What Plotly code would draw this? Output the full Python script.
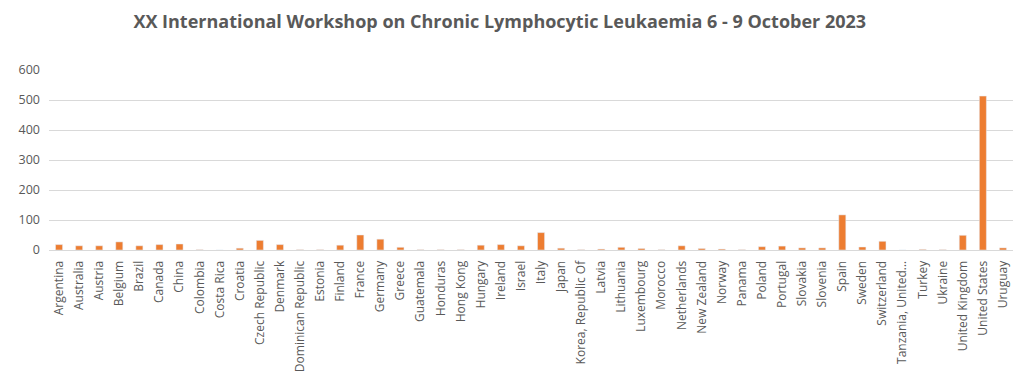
import plotly.graph_objects as go

countries = ["Argentina", "Australia", "Austria", "Belgium", "Brazil", "Canada", "China",
             "Colombia", "Costa Rica", "Croatia", "Czech Republic", "Denmark",
             "Dominican Republic", "Estonia", "Finland", "France", "Germany", "Greece",
             "Guatemala", "Honduras", "Hong Kong", "Hungary", "Ireland", "Israel", "Italy",
             "Japan", "Korea, Republic Of", "Latvia", "Lithuania", "Luxembourg", "Morocco",
             "Netherlands", "New Zealand", "Norway", "Panama", "Poland", "Portugal",
             "Slovakia", "Slovenia", "Spain", "Sweden", "Switzerland", "Tanzania, United...",
             "Turkey", "Ukraine", "United Kingdom", "United States", "Uruguay"]
participants = [18, 14, 14, 27, 14, 18, 20,
                1, 0, 6, 32, 18,
                1, 1, 16, 50, 36, 9,
                1, 1, 1, 16, 18, 14, 58,
                6, 1, 3, 9, 5, 1,
                14, 5, 3, 1, 11, 13,
                7, 7, 117, 10, 29, 0,
                2, 1, 49, 513, 7]
y_ticks = [0, 100, 200, 300, 400, 500, 600]

fig = go.Figure(go.Bar(x=countries, y=participants, marker_color="#ED7D31",
                       width=0.35))
fig.update_layout(
    width=1016, height=378,
    margin=dict(l=41, r=11, t=62, b=136, autoexpand=False),
    paper_bgcolor="white", plot_bgcolor="white",
    title=dict(text="<b>XX International Workshop on Chronic Lymphocytic Leukaemia 6 - 9 October 2023</b>",
               x=0.484, xanchor="center", y=0.963, yanchor="middle",
               font=dict(family="Open Sans", size=18, color="#595959")),
    font=dict(family="Open Sans", color="#595959"),
    showlegend=False,
    bargap=0.65,
)
fig.update_yaxes(range=[0, 600], tickvals=y_ticks, gridcolor="#d9d9d9", gridwidth=1,
                 tickfont=dict(size=12.5, color="#595959"), zeroline=False,
                 ticks="", showline=False, automargin=False, ticklabelstandoff=8)
fig.update_xaxes(tickangle=-90, tickfont=dict(size=12, color="#595959"),
                 showline=True, linecolor="#d9d9d9", linewidth=1, ticks="",
                 automargin=False, ticklabelstandoff=5)
fig.write_html("out.html")
